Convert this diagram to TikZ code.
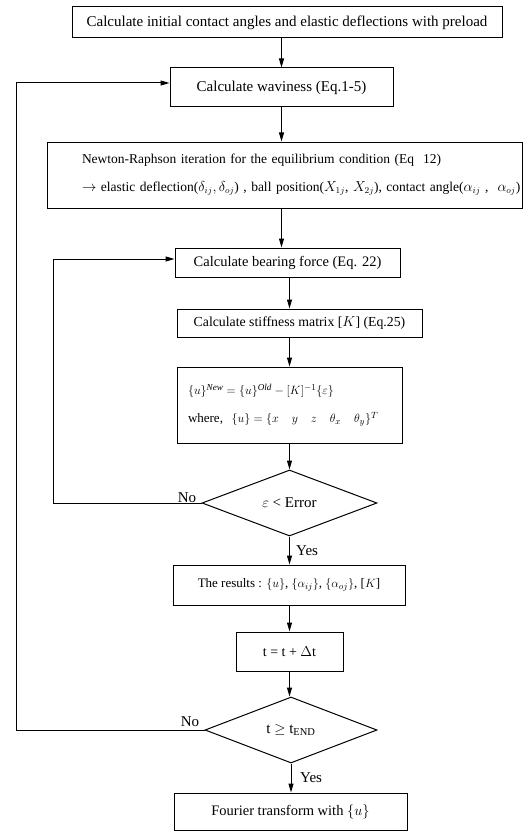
\documentclass[tikz,border=0pt]{standalone}
\usepackage{fontspec}
\setmainfont{Liberation Serif}
\usetikzlibrary{shapes.geometric,arrows.meta}
\begin{document}
\begin{tikzpicture}[x=1pt,y=-1pt,
  box/.style={draw,line width=1pt,inner sep=0pt,font=\fontsize{15}{28}\selectfont},
  dec/.style={draw,diamond,line width=1pt,inner sep=0pt,font=\fontsize{15}{17}\selectfont},
  arr/.style={line width=1pt,-{Triangle[length=9pt,width=5pt]}},
  ln/.style={line width=1pt},
  lbl/.style={inner sep=0pt,font=\fontsize{15}{17}\selectfont}]
\useasboundingbox (0,0) rectangle (524,832);

\node[box,minimum width=430pt,minimum height=31pt] (b1) at (287,22.5)
  {Calculate initial contact angles and elastic deflections with preload};
\node[box,minimum width=223pt,minimum height=39pt] (b2) at (281.5,87.5)
  {Calculate waviness (Eq.1-5)};
\node[box,minimum height=66pt,text width=475pt,align=left,
      font=\fontsize{13.5}{28}\selectfont] (b3) at (284.5,175)
  {\hspace*{35pt}Newton-Raphson iteration for the equilibrium condition (Eq\ \ 12)\\
   \hspace*{35pt}$\rightarrow$ elastic deflection($\delta_{ij}, \delta_{oj}$) , ball position($X_{1j}$,\ $X_{2j}$), contact angle($\alpha_{ij}$ , \ $\alpha_{oj}$)};
\node[box,minimum width=225pt,minimum height=29pt,font=\fontsize{14.5}{17}\selectfont] (b4) at (287.5,262.5)
  {Calculate bearing force (Eq. 22)};
\node[box,minimum width=245pt,minimum height=28pt,font=\fontsize{13.8}{17}\selectfont] (b5) at (299.5,323)
  {Calculate stiffness matrix [$K$] (Eq.25)};
\node[box,minimum height=76pt,text width=225pt,align=left,
      font=\fontsize{13}{28}\selectfont] (b6) at (289.5,405)
  {\hspace*{11pt}$\{u\}^{\mathit{New}} = \{u\}^{\mathit{Old}} - [K]^{-1}\{\varepsilon\}$\\
   \hspace*{11pt}where,\ \ $\{u\} = \{x\quad y\quad z\quad \theta_x\quad \theta_y\}^{T}$};
\node[dec,minimum width=175pt,minimum height=66pt] (d1) at (289.5,503)
  {$\varepsilon$ < Error};
\node[box,minimum width=232pt,minimum height=40pt,font=\fontsize{13}{17}\selectfont] (b7) at (289,585)
  {The results : $\{u\}$, $\{\alpha_{ij}\}$, $\{\alpha_{oj}\}$, [$K$]};
\node[box,minimum width=107pt,minimum height=39pt,font=\fontsize{14}{17}\selectfont] (b8) at (289.5,651.5)
  {t = t + $\Delta$t};
\node[dec,minimum width=172pt,minimum height=66pt] (d2) at (291,730)
  {t $\geq$ t\textsubscript{END}};
\node[box,minimum width=233pt,minimum height=37pt,font=\fontsize{14.5}{17}\selectfont] (b9) at (290.5,811.5)
  {Fourier transform with $\{u\}$};

% main flow
\draw[arr] (b2.north |- b1.south) -- (b2.north);
\draw[arr] (b2.south) -- (b2.south |- b3.north);
\draw[arr] (b3.south -| b2) -- (b4.north -| b2);
\draw[arr] (b4.south -| b6) -- (b5.north -| b6);
\draw[arr] (b5.south -| b6) -- (b6.north);
\draw[arr] (b6.south) -- (d1.north);
\draw[arr] (d1.south) -- (d1.south |- b7.north);
\draw[arr] (b7.south -| b8) -- (b8.north);
\draw[arr] (b8.south) -- (b8.south |- d2.north);
\draw[arr] (d2.south) -- (d2.south |- b9.north);

% inner loop
\coordinate (c1) at (53,503);
\coordinate (c2) at (53,259);
\draw[ln] (d1.west) -- (c1) -- (c2);
\draw[arr] (c2) -- (c2 -| b4.west);
% outer loop
\coordinate (o1) at (16,730);
\coordinate (o2) at (16,83);
\draw[ln] (d2.west) -- (o1) -- (o2);
\draw[arr] (o2) -- (o2 -| b2.west);

% labels
\node[lbl,anchor=south] (n1) at (187,503) {No};
\node[lbl,anchor=west] (y1) at (296,551) {Yes};
\node[lbl,anchor=south] (n2) at (190,727) {No};
\node[lbl,anchor=west] (y2) at (300,778) {Yes};
\end{tikzpicture}
\end{document}
